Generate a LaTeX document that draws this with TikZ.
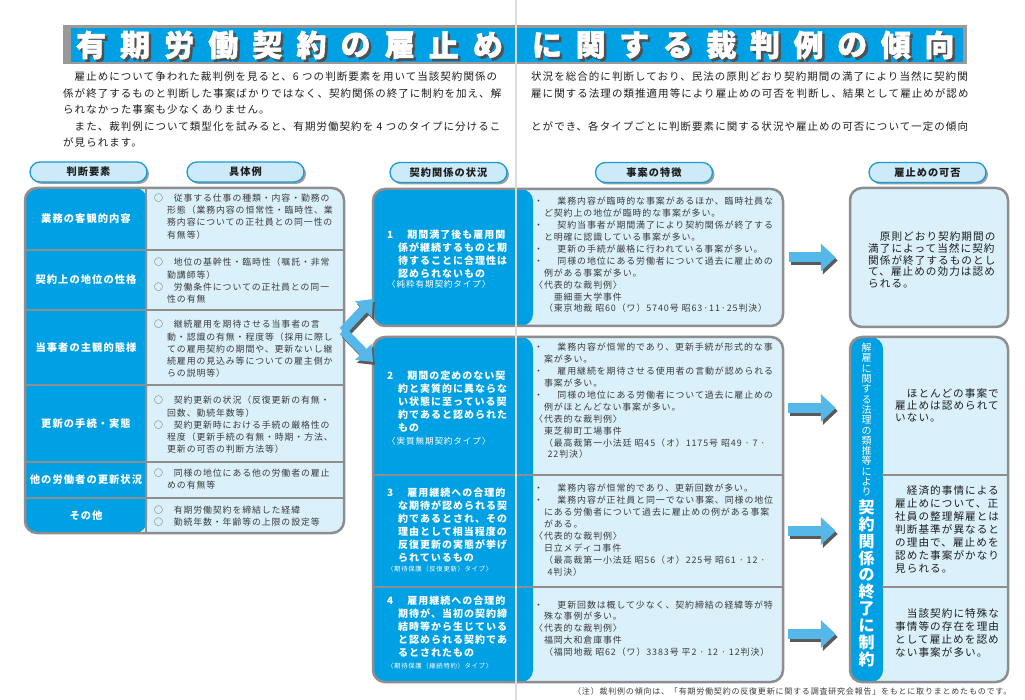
\documentclass[tikz,border=0pt]{standalone}
\usepackage{fontspec}
\setmainfont{Noto Sans CJK JP}[LetterSpace=10]
\newfontfamily\ttlfont{Noto Sans CJK JP}[BoldFeatures={FakeBold=1.6}]
\usetikzlibrary{positioning, arrows.meta, shadows}

\definecolor{mblue}{HTML}{00A0E4}
\definecolor{lblue}{HTML}{DAF0FA}
\definecolor{pillfill}{HTML}{CCEAF8}
\definecolor{pillline}{HTML}{1C9AD6}
\definecolor{bgray}{HTML}{8E8E8E}
\definecolor{arrblue}{HTML}{55B8E8}
\definecolor{shgray}{HTML}{5A5A5A}
\definecolor{txtgray}{HTML}{3C3C3C}
\definecolor{txtdark}{HTML}{1E1E1E}
\definecolor{ttlgray}{HTML}{9A9A9A}
\definecolor{ttlshadow}{HTML}{505050}
\definecolor{foldgray}{HTML}{DCDCDC}

\newcommand\fsz[2]{\fontsize{#1}{#2}\selectfont}
\newcommand\bul{・\hspace{1.6em}}
\newcommand\gap{\hspace*{13pt}}
\newcommand\subf{\mdseries\fsz{8.6}{10}}
\newcommand\subsf{\mdseries\fsz{6.4}{8}}

\begin{document}
\begin{tikzpicture}[x=1pt, y=-1pt,
  ttlchar/.style={font=\ttlfont\bfseries\fsz{30}{32}, text=white, inner sep=0pt},
  ttlsh/.style={font=\ttlfont\bfseries\fsz{30}{32}, text=ttlshadow, inner sep=0pt},
  para/.style={anchor=west, align=left, inner sep=0pt, font=\fsz{10.5}{16.5}, text=txtdark},
  pill/.style={draw=pillline, line width=1.3pt, fill=pillfill, rounded corners=10pt,
               minimum width=117pt, minimum height=20pt, inner sep=0pt,
               font=\bfseries\fsz{10.2}{12}, text=txtdark,
               drop shadow={shadow xshift=2pt, shadow yshift=-2pt, fill=gray!75, opacity=1}},
  box/.style={draw=bgray, line width=2.5pt, fill=lblue, rounded corners=12pt, inner sep=0pt},
  strip/.style={path picture={\fill[mblue] (path picture bounding box.north west)
                rectangle ([xshift=#1]path picture bounding box.south west);}},
  sep/.style={draw=bgray, line width=1.5pt},
  lbl/.style={font=\bfseries\fsz{10.3}{12}, text=white, inner sep=0pt},
  spec/.style={anchor=west, align=left, inner sep=0pt, font=\fsz{8.9}{12.3}, text=txtgray},
  kind/.style={anchor=west, align=left, inner sep=0pt, font=\bfseries\fsz{10}{13}, text=white},
  desc/.style={anchor=west, align=left, inner sep=0pt, font=\fsz{8.95}{11.9}, text=txtgray},
  res/.style={anchor=west, align=left, inner sep=0pt, text=txtdark},
  vtext/.style={anchor=north, align=center, inner sep=0pt, text=white},
  barrow/.style={draw=arrblue, line width=10pt, -{Triangle[length=15pt, width=27pt]},
                 shorten <=5pt, shorten >=13pt},
  barrowsh/.style={barrow, draw=shgray, transform canvas={shift={(2pt,-3pt)}}},
  darr/.style={draw=arrblue, line width=9pt, -{Triangle[length=14pt, width=22pt]}},
  darrsh/.style={darr, draw=shgray, transform canvas={shift={(2pt,-3pt)}}},
  fold/.style={draw=foldgray, line width=2.5pt},
]
\useasboundingbox (0,0) rectangle (1025,700);
\fill[white] (0,0) rectangle (1025,700);

%% ---- Title band ----
\fill[ttlgray] (63,25) rectangle (967,64);
\fill[mblue] (71,28) rectangle (963,62);
\foreach \ch [count=\i from 0] in {有,期,労,働,契,約,の,雇,止,め} {
  \node[ttlsh] (tls\i) at (93.5+44.1*\i,47.5) {\ch};
  \node[ttlchar] (tl\i) at (91+44.1*\i,45) {\ch};
}
\foreach \ch [count=\i from 0] in {に,関,す,る,裁,判,例,の,傾,向} {
  \node[ttlsh] (trs\i) at (549.5+43.6*\i,47.5) {\ch};
  \node[ttlchar] (tr\i) at (547+43.6*\i,45) {\ch};
}

%% ---- Lead text ----
\node[para] (parL) at (63,110)
  {　雇止めについて争われた裁判例を見ると、6 つの判断要素を用いて当該契約関係の\\
   係が終了するものと判断した事案ばかりではなく、契約関係の終了に制約を加え、解\\
   られなかった事案も少なくありません。\\
   　また、裁判例について類型化を試みると、有期労働契約を 4 つのタイプに分けるこ\\
   が見られます。};
\node[para] (parR) at (531,101.75)
  {状況を総合的に判断しており、民法の原則どおり契約期間の満了により当然に契約関\\
   雇に関する法理の類推適用等により雇止めの可否を判断し、結果として雇止めが認め\\[16.5pt]
   とができ、各タイプごとに判断要素に関する状況や雇止めの可否について一定の傾向};

%% ---- Column headers ----
\node[pill] (h1) at (88.5,172)  {判断要素};
\node[pill] (h2) at (245.5,172) {具体例};
\node[pill] (h3) at (448.5,172.5) {契約関係の状況};
\node[pill] (h4) at (654,172.5) {事案の特徴};
\node[pill] (h5) at (927.5,172.5) {雇止めの可否};

%% ---- Left table: factors ----
\node[box, strip=122pt, minimum width=319pt, minimum height=345pt] (tbl) at (184.5,360.5) {};
\draw[sep] ([xshift=122pt]tbl.north west) -- ([xshift=122pt]tbl.south west);
\foreach \y in {250,310,385,462,498}
  \draw[sep] (tbl.west |- 0,\y) -- (tbl.east |- 0,\y);

\node[lbl] (lb1) at (86,219)   {業務の客観的内容};
\node[lbl] (lb2) at (86,280)   {契約上の地位の性格};
\node[lbl] (lb3) at (86,347.5) {当事者の主観的態様};
\node[lbl] (lb4) at (86,423.5) {更新の手続・実態};
\node[lbl] (lb5) at (86,480)   {他の労働者の更新状況};
\node[lbl] (lb6) at (86,515.5) {その他};

\node[spec] (s1) at (154,216.5)
  {○　従事する仕事の種類・内容・勤務の\\\gap 形態（業務内容の恒常性・臨時性、業\\
   \gap 務内容についての正社員との同一性の\\\gap 有無等）};
\node[spec] (s2) at (154,281)
  {○　地位の基幹性・臨時性（嘱託・非常\\\gap 勤講師等）\\
   ○　労働条件についての正社員との同一\\\gap 性の有無};
\node[spec] (s3) at (154,349)
  {○　継続雇用を期待させる当事者の言\\\gap 動・認識の有無・程度等（採用に際し\\
   \gap ての雇用契約の期間や、更新ないし継\\\gap 続雇用の見込み等についての雇主側か\\
   \gap らの説明等）};
\node[spec] (s4) at (154,425)
  {○　契約更新の状況（反復更新の有無・\\\gap 回数、勤続年数等）\\
   ○　契約更新時における手続の厳格性の\\\gap 程度（更新手続の有無・時期・方法、\\
   \gap 更新の可否の判断方法等）};
\node[spec] (s5) at (154,479)
  {○　同様の地位にある他の労働者の雇止\\\gap めの有無等};
\node[spec] (s6) at (154,516)
  {○　有期労働契約を締結した経緯\\○　勤続年数・年齢等の上限の設定等};

%% ---- Middle: contract types and case features ----
\node[box, strip=160pt, minimum width=410pt, minimum height=137pt] (box1) at (578,257.5) {};
\node[box, strip=160pt, minimum width=410pt, minimum height=345pt] (box2) at (578,509.5) {};
\foreach \y in {475,587}
  \draw[sep] (box2.west |- 0,\y) -- (box2.east |- 0,\y);

\node[kind] (t1) at (387,259)
  {1\hspace{1.4em}期間満了後も雇用関\\　係が継続するものと期\\　待することに合理性は\\
   　認められないもの\\[-3pt]{\subf 〈純粋有期契約タイプ〉}};
\node[kind] (t2) at (387,408.5)
  {2\hspace{1.4em}期間の定めのない契\\　約と実質的に異ならな\\　い状態に至っている契\\
   　約であると認められた\\　もの\\{\subf 〈実質無期契約タイプ〉}};
\node[kind] (t3) at (387,530)
  {3\hspace{1.4em}雇用継続への合理的\\　な期待が認められる契\\　約であるとされ、その\\
   　理由として相当程度の\\　反復更新の実態が挙げ\\　られているもの\\[-3pt]
   {\subsf 〈期待保護（反復更新）タイプ〉}};
\node[kind] (t4) at (387,632.5)
  {4\hspace{1.4em}雇用継続への合理的\\　期待が、当初の契約締\\　結時等から生じている\\
   　と認められる契約であ\\　るとされたもの\\[-1pt]{\subsf 〈期待保護（継続特約）タイプ〉}};

\node[desc] (d1) at (534,255)
  {\bul 業務内容が臨時的な事案があるほか、臨時社員な\\　ど契約上の地位が臨時的な事案が多い。\\
   \bul 契約当事者が期間満了により契約関係が終了する\\　と明確に認識している事案が多い。\\
   \bul 更新の手続が厳格に行われている事案が多い。\\
   \bul 同様の地位にある労働者について過去に雇止めの\\　例がある事案が多い。\\
   〈代表的な裁判例〉\\　　亜細亜大学事件\\
   　（東京地裁 昭60（ワ）5740号 昭63·11·25判決）};
\node[desc] (d2) at (534,401)
  {\bul 業務内容が恒常的であり、更新手続が形式的な事\\　案が多い。\\
   \bul 雇用継続を期待させる使用者の言動が認められる\\　事案が多い。\\
   \bul 同様の地位にある労働者について過去に雇止めの\\　例がほとんどない事案が多い。\\
   〈代表的な裁判例〉\\　東芝柳町工場事件\\
   　（最高裁第一小法廷 昭45（オ）1175号 昭49 · 7 ·\\　\hspace{0.5em}22判決）};
\node[desc] (d3) at (534,530)
  {\bul 業務内容が恒常的であり、更新回数が多い。\\
   \bul 業務内容が正社員と同一でない事案、同様の地位\\
   　にある労働者について過去に雇止めの例がある事案\\　がある。\\
   〈代表的な裁判例〉\\　日立メディコ事件\\
   　（最高裁第一小法廷 昭56（オ）225号 昭61 · 12 ·\\　\hspace{0.5em}4判決）};
\node[desc] (d4) at (534,628.5)
  {\bul 更新回数は概して少なく、契約締結の経緯等が特\\　殊な事例が多い。\\
   〈代表的な裁判例〉\\　福岡大和倉庫事件\\
   　（福岡地裁 昭62（ワ）3383号 平2 · 12 · 12判決）};

%% ---- Right: whether non-renewal is allowed ----
\node[box, minimum width=158pt, minimum height=139pt] (boxA) at (929,257.5) {};
\node[box, strip=33pt, minimum width=158pt, minimum height=345pt] (boxB) at (929,509.5) {};
\foreach \y in {475,587}
  \draw[sep] ([xshift=33pt]boxB.west |- 0,\y) -- (boxB.east |- 0,\y);

\node[res, font=\fsz{10.6}{11.6}] (rA) at (868,260)
  {　原則どおり契約期間の\\満了によって当然に契約\\関係が終了するものとし\\
   て、雇止めの効力は認め\\られる。};
\node[res, font=\fsz{10.6}{12}] (rB1) at (895,405)
  {　ほとんどの事案で\\雇止めは認められて\\いない。};
\node[res, font=\fsz{10.6}{13}] (rB2) at (895,529)
  {　経済的事情による\\雇止めについて、正\\社員の整理解雇とは\\判断基準が異なると\\
   の理由で、雇止めを\\認めた事案がかなり\\見られる。};
\node[res, font=\fsz{10.6}{13.3}] (rB3) at (895,633)
  {　当該契約に特殊な\\事情等の存在を理由\\として雇止めを認め\\ない事案が多い。};

\node[vtext, font=\fsz{10}{10.3}] (vsm) at (866.5,343)
  {解\\雇\\に\\関\\す\\る\\法\\理\\の\\類\\推\\等\\に\\よ\\り};
\node[vtext, font=\bfseries\fsz{16}{16.9}, below=3pt of vsm] (vbg)
  {契\\約\\関\\係\\の\\終\\了\\に\\制\\約};

%% ---- Arrows ----
\coordinate (fork) at (343,331);
\coordinate (in1) at (373,299);
\coordinate (in2) at (373,362);
\draw[darrsh] (fork) -- (in1);
\draw[darrsh] (fork) -- (in2);
\draw[darr] (fork) -- (in1);
\draw[darr] (fork) -- (in2);

\coordinate (row2) at (783,408);
\coordinate (row3) at (783,531);
\coordinate (row4) at (783,634);
\draw[barrowsh] (box1.east) -- (boxA.west);
\draw[barrow]   (box1.east) -- (boxA.west);
\foreach \r in {row2,row3,row4} {
  \draw[barrowsh] (\r) -- (\r -| boxB.west);
  \draw[barrow]   (\r) -- (\r -| boxB.west);
}

%% ---- Footnote ----
\node[anchor=west, inner sep=0pt, font=\fsz{8}{10}, text=txtgray] (fn) at (573,691)
  {（注）裁判例の傾向は、「有期労働契約の反復更新に関する調査研究会報告」をもとに取りまとめたものです。};

%% ---- Page fold ----
\draw[fold] (516,0) -- (516,700);

\end{tikzpicture}
\end{document}
